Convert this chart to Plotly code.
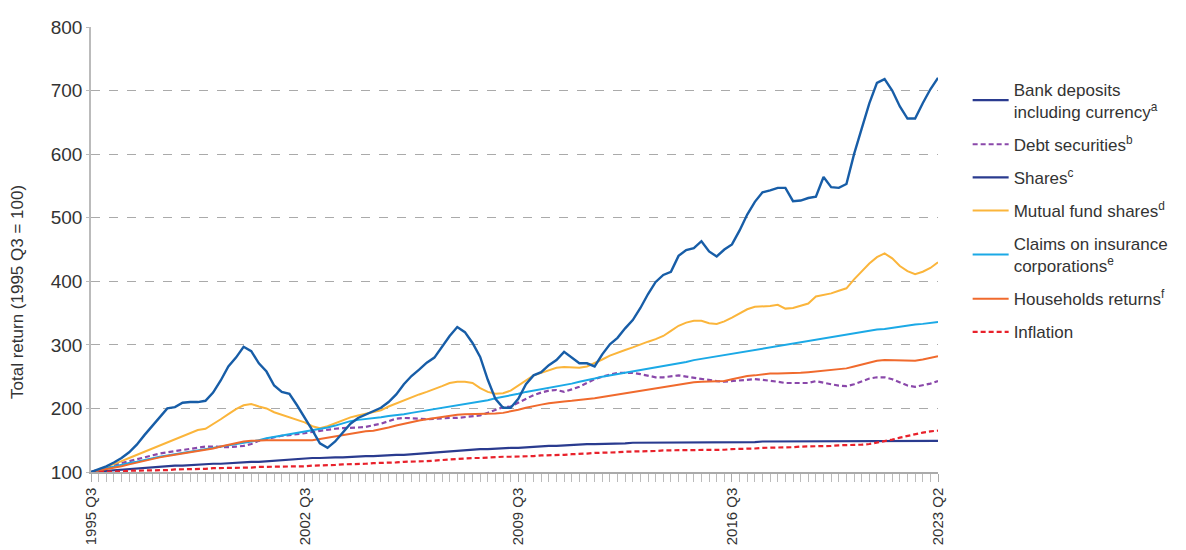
import plotly.graph_objects as go

# quarterly index values, 1995 Q3 = 100
bank_deposits = [
    100, 101, 101, 102, 103, 104, 105, 106, 107, 108, 109, 110, 110, 111, 112, 112,
    113, 113, 114, 114, 115, 116, 116, 117, 118, 119, 120, 121, 121, 122, 122, 123,
    123, 123, 124, 124, 125, 125, 126, 126, 127, 127, 128, 129, 130, 131, 132, 133,
    133, 134, 135, 136, 136, 137, 137, 138, 138, 139, 139, 140, 141, 141, 142, 143,
    143, 144, 144, 144, 145, 145, 145, 146, 146, 146, 146, 146, 146, 147, 147, 147,
    147, 147, 147, 147, 147, 147, 147, 147, 148, 148, 148, 148, 148, 148, 148, 148,
    148, 148, 148, 148, 148, 148, 148, 148, 148, 148, 148, 149, 149, 149, 149, 149,
]
debt_securities = [
    100, 104, 107, 111, 114, 117, 120, 124, 127, 129, 131, 133, 134, 136, 138, 140,
    140, 139, 139, 140, 141, 144, 149, 152, 155, 157, 158, 159, 161, 163, 165, 167,
    168, 169, 169, 170, 171, 173, 176, 180, 184, 185, 185, 184, 183, 184, 185, 185,
    185, 186, 187, 189, 193, 198, 202, 203, 209, 216, 221, 225, 228, 229, 226, 230,
    234, 240, 246, 250, 253, 256, 256, 256, 254, 251, 249, 249, 250, 252, 250, 248,
    246, 244, 243, 242, 243, 244, 245, 246, 245, 244, 242, 240, 240, 240, 240, 243,
    240, 238, 236, 235, 238, 243, 247, 249, 249, 246, 241, 236, 234, 236, 239, 243,
]
shares = [
    100, 104, 109, 115, 122, 131, 143, 158, 172, 186, 200, 202, 209, 210, 210, 212,
    225, 244, 266, 280, 297, 290, 271, 258, 236, 226, 223, 205, 186, 166, 145, 138,
    148, 162, 176, 185, 190, 195, 201, 210, 222, 238, 251, 261, 272, 280, 298, 314,
    328, 320, 303, 281, 245, 215, 201, 201, 215, 238, 252, 257, 268, 276, 289, 280,
    271, 271, 266, 285, 301, 311, 326, 339, 358, 380, 399, 410, 415, 440, 449, 452,
    463, 447, 439, 450, 458, 480, 505, 525, 540, 543, 547, 547, 526, 527, 531, 533,
    564, 548, 547, 553, 600, 640, 680, 712, 718, 700, 675, 656, 656, 680, 702, 720,
]
mutual_funds = [
    100, 103, 108, 112, 117, 122, 127, 132, 137, 142, 147, 151, 156, 161, 166, 168,
    175, 183, 191, 199, 205, 207, 203, 200, 194, 190, 187, 183, 178, 172, 169, 172,
    177, 182, 186, 189, 192, 195, 197, 203, 208, 213, 218, 222, 226, 230, 235, 240,
    242, 242, 240, 232, 226, 223, 224, 228, 236, 245, 252, 256, 260, 264, 265, 265,
    264, 266, 271, 277, 283, 288, 292, 296, 301, 305, 309, 314, 322, 330, 335, 338,
    338, 334, 333, 337, 343, 350, 356, 360, 360, 361, 363, 357, 358, 361, 365, 376,
    378, 381, 385, 389, 403, 416, 428, 438, 444, 436, 424, 416, 411, 415, 421, 430,
]
insurance_claims = [
    100, 103, 106, 109, 111, 114, 116, 119, 122, 124, 126, 128, 130, 132, 134, 136,
    138, 139, 141, 143, 145, 147, 150, 153, 155, 157, 159, 161, 163, 165, 167, 170,
    173, 177, 180, 182, 183, 185, 186, 188, 189, 191, 193, 195, 196, 198, 200, 202,
    204, 206, 208, 210, 213, 216, 218, 220, 223, 226, 228, 230, 232, 234, 236, 239,
    242, 244, 247, 250, 252, 254, 256, 258, 261, 263, 265, 267, 269, 271, 273, 276,
    278, 280, 282, 284, 287, 289, 291, 293, 295, 297, 299, 301, 303, 305, 307, 309,
    311, 312, 314, 316, 318, 320, 322, 324, 325, 327, 329, 330, 332, 333, 335, 336,
]
household_returns = [
    100, 102, 105, 107, 109, 112, 115, 118, 121, 123, 125, 127, 129, 131, 133, 134,
    137, 140, 143, 146, 148, 149, 150, 150, 150, 150, 151, 151, 150, 150, 152, 154,
    156, 159, 161, 163, 164, 165, 167, 170, 173, 176, 179, 181, 183, 185, 187, 189,
    190, 191, 191, 191, 192, 192, 193, 195, 198, 201, 204, 206, 208, 210, 211, 212,
    213, 214, 216, 218, 220, 222, 224, 226, 228, 230, 232, 234, 236, 238, 239, 241,
    242, 242, 242, 243, 246, 249, 251, 252, 254, 255, 255, 255, 256, 256, 257, 258,
    260, 261, 262, 263, 266, 269, 272, 275, 276, 276, 276, 275, 275, 277, 279, 282,
]
inflation = [
    100, 100, 101, 101, 101, 102, 102, 102, 103, 103, 103, 104, 104, 104, 105, 105,
    106, 106, 106, 107, 107, 107, 108, 108, 108, 108, 109, 109, 109, 110, 110, 111,
    111, 112, 112, 113, 113, 114, 114, 115, 115, 116, 116, 117, 117, 118, 119, 119,
    120, 121, 122, 122, 123, 123, 124, 124, 124, 125, 125, 126, 126, 127, 127, 128,
    128, 129, 130, 130, 131, 131, 132, 132, 133, 133, 133, 134, 134, 134, 135, 135,
    135, 135, 135, 135, 136, 136, 137, 137, 138, 138, 139, 139, 139, 140, 140, 141,
    141, 141, 142, 142, 142, 143, 144, 146, 148, 151, 154, 157, 160, 162, 164, 165,
]

tick_labels = ["1995 Q3", "2002 Q3", "2009 Q3", "2016 Q3", "2023 Q2"]

# quarter names 1995 Q3 .. 2023 Q2
quarters = []
year, q = 1995, 3
while len(quarters) < len(shares):
    quarters.append(f"{year} Q{q}")
    q += 1
    if q > 4:
        year, q = year + 1, 1
x = list(range(len(quarters)))
tick_pos = [quarters.index(t) for t in tick_labels]

DASH = "5px,3px"
series = [
    # name, values, colour, dash, width, legend rank
    ("Bank deposits<br>including currency<sup>a</sup>", bank_deposits, "#2a3b8f", "solid", 2.2, 1),
    ("Debt securities<sup>b</sup>", debt_securities, "#8a48aa", DASH, 2.2, 2),
    ("Mutual fund shares<sup>d</sup>", mutual_funds, "#fbb53b", "solid", 2, 4),
    ("Claims on insurance<br>corporations<sup>e</sup>", insurance_claims, "#1ba9e6", "solid", 2, 5),
    ("Households returns<sup>f</sup>", household_returns, "#f06a2d", "solid", 2, 6),
    ("Inflation", inflation, "#e8212b", DASH, 2.2, 7),
    ("Shares<sup>c</sup>", shares, "#175da7", "solid", 2.4, 3),
]

fig = go.Figure()
for name, vals, color, dash, width, rank in series:
    fig.add_trace(go.Scatter(
        x=x, y=vals, name=name, mode="lines",
        line=dict(color=color, dash=dash, width=width),
        customdata=quarters, hovertemplate="%{customdata}: %{y}<extra></extra>",
        legendrank=rank, legendgroup=str(rank),
    ))

# the legend swatch of "Shares" is drawn in navy in the original
fig.data[-1].update(showlegend=False)
fig.add_trace(go.Scatter(
    x=[None], y=[None], name="Shares<sup>c</sup>", mode="lines",
    line=dict(color="#2a3b8f", width=2.2), legendrank=3, legendgroup="3",
))

# page body has an 8px margin, so the figure is sized to fit the window
fig.update_layout(
    width=1178, height=542,
    margin=dict(l=83, r=244, t=19, b=78),
    plot_bgcolor="white", paper_bgcolor="white",
    font=dict(family="Arial, Liberation Sans, sans-serif", color="#333333"),
    showlegend=True,
    legend=dict(
        x=1.035, y=0.9, xanchor="left", yanchor="top",
        font=dict(size=17, color="#333333"),
        tracegroupgap=8, itemwidth=36,
        bgcolor="rgba(0,0,0,0)",
    ),
)
# y title sits a little below the plot's middle in the original
fig.add_annotation(
    text="Total return (1995 Q3 = 100)", textangle=-90,
    xref="paper", yref="paper", x=-0.086, y=0.405,
    xanchor="center", yanchor="middle", showarrow=False,
    font=dict(size=17, color="#333333"),
)
fig.update_xaxes(
    range=[0, len(x) - 1], automargin=False,
    tickmode="array", tickvals=tick_pos, ticktext=tick_labels,
    tickangle=-90, tickfont=dict(size=15, color="#333333"),
    ticks="outside", ticklen=8, tickcolor="#aaaaaa",
    minor=dict(ticks="outside", dtick=1, tick0=0, ticklen=8, tickcolor="#bbbbbb", showgrid=False),
    showline=True, linecolor="#aaaaaa", linewidth=1.5,
    showgrid=False, zeroline=False,
)
fig.update_yaxes(
    range=[100, 800], dtick=100, automargin=False,
    tickfont=dict(size=19, color="#333333"),
    showline=True, linecolor="#bbbbbb", linewidth=1.5,
    showgrid=True, gridcolor="#aaaaaa", griddash="dash", gridwidth=1,
    ticks="outside", ticklen=3, tickcolor="#bbbbbb",
    zeroline=False,
)

fig.write_html("out.html")
